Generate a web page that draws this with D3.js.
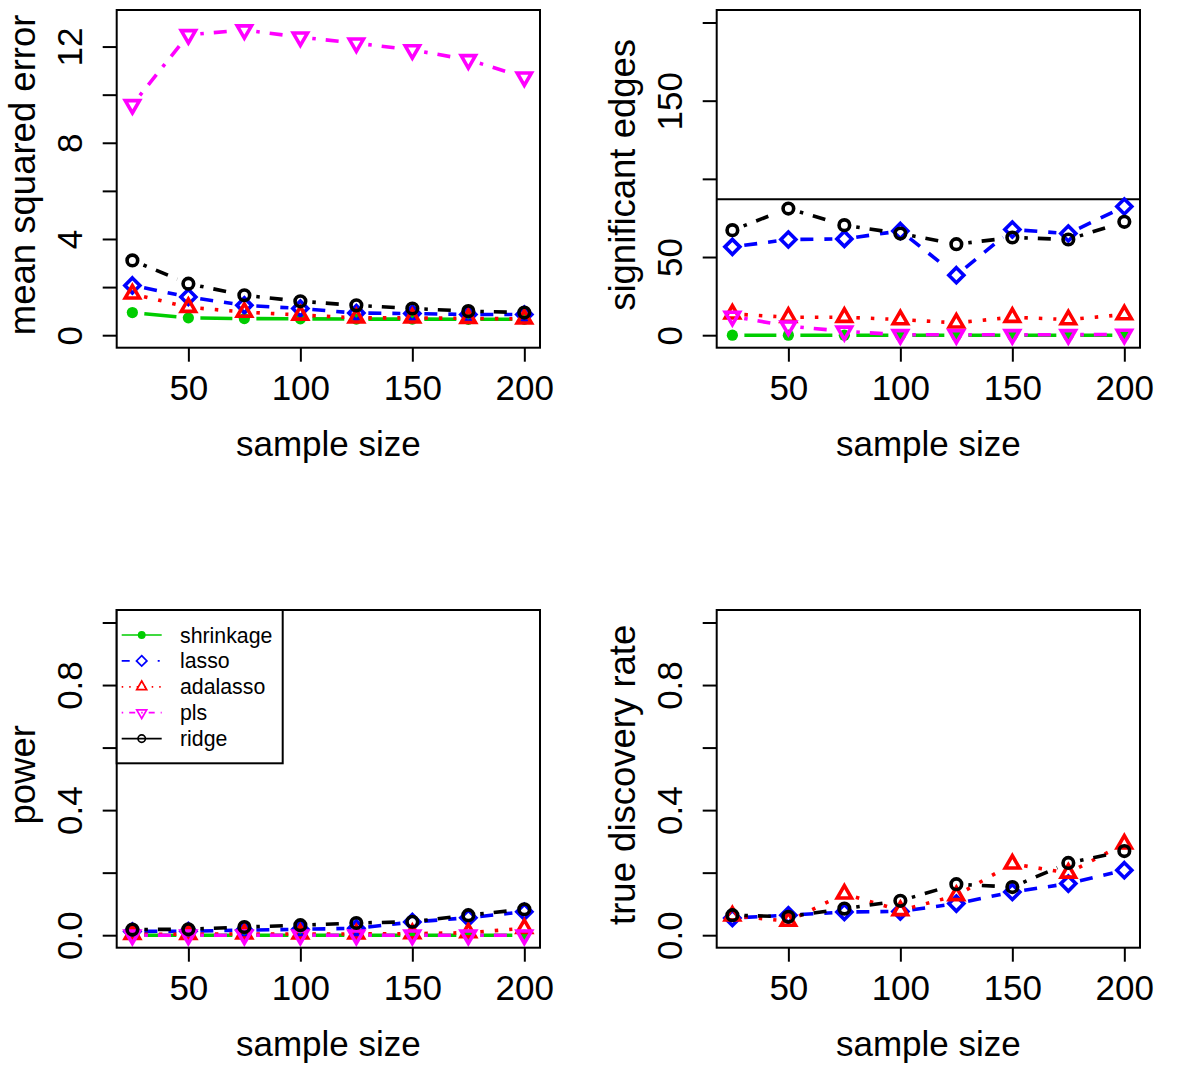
<!DOCTYPE html>
<html><head><meta charset="utf-8">
<script src="https://cdn.jsdelivr.net/npm/d3@7"></script>
<style>
body{margin:0;background:#fff}
svg{display:block}
text{font-family:"Liberation Sans",Arial,Helvetica,sans-serif;fill:#000}
</style>
</head><body>
<svg id="c" width="1200" height="1072"></svg>
<script>
// ---------------- data ----------------
const sampleSizes = [25, 50, 75, 100, 125, 150, 175, 200];
const methods = ["shrinkage", "lasso", "adalasso", "pls", "ridge"];

const mseShrinkage = [0.94, 0.72, 0.69, 0.68, 0.67, 0.67, 0.66, 0.66];
const mseLasso     = [2.07, 1.59, 1.24, 1.11, 0.92, 0.90, 0.86, 0.86];
const mseAdalasso  = [1.72, 1.16, 0.96, 0.84, 0.72, 0.72, 0.70, 0.68];
const msePls       = [9.58, 12.49, 12.69, 12.39, 12.14, 11.86, 11.45, 10.73];
const mseRidge     = [3.11, 2.14, 1.66, 1.41, 1.24, 1.11, 1.00, 0.94];

const edgesShrinkage = [0, 0, 0, 0, 0, 0, 0, 0];
const edgesLasso     = [56.5, 61.2, 61.6, 66.7, 38.4, 67.6, 65.0, 82.3];
const edgesAdalasso  = [13.6, 11.5, 11.5, 10.0, 7.9, 11.5, 10.0, 13.2];
const edgesPls       = [12.0, 5.8, 2.5, 0.3, 0.3, 0.3, 0.3, 0.5];
const edgesRidge     = [67.2, 81.0, 70.4, 65.0, 58.2, 62.5, 61.2, 72.5];
const trueEdges = 87;

const powerShrinkage = [0, 0, 0, 0, 0, 0, 0, 0];
const powerLasso     = [0.012, 0.013, 0.016, 0.019, 0.022, 0.042, 0.056, 0.075];
const powerAdalasso  = [0.003, 0.003, 0.004, 0.004, 0.004, 0.005, 0.008, 0.022];
const powerPls       = [0, 0, 0, 0, 0, 0, 0, 0];
const powerRidge     = [0.018, 0.019, 0.026, 0.032, 0.039, 0.043, 0.064, 0.083];

const tdrShrinkage = [null, null, null, null, null, null, null, null];
const tdrLasso     = [0.055, 0.064, 0.074, 0.076, 0.101, 0.138, 0.165, 0.208];
const tdrAdalasso  = [0.062, 0.045, 0.132, 0.079, 0.127, 0.228, 0.199, 0.292];
const tdrPls       = [null, null, null, null, null, null, null, null];
const tdrRidge     = [0.064, 0.059, 0.085, 0.110, 0.163, 0.154, 0.231, 0.269];

const xTicks = [50, 100, 150, 200];
const mseTicks = [0, 2, 4, 6, 8, 10, 12];
const mseTickLabels = ["0", "4", "8", "12"];
const edgesTicks = [0, 50, 100, 150, 200];
const edgesTickLabels = ["0", "50", "150"];
const propTicks = [0, 0.2, 0.4, 0.6, 0.8, 1.0];
const propTickLabels = ["0.0", "0.4", "0.8"];

// ---------------- styles ----------------
const colors = ["#00CD00", "#0000FF", "#FF0000", "#FF00FF", "#000000"];
const dashes = [null, "13,11", "3.5,11", "3.5,10,13,10", "3.5,10,13,10"];
const legendDashes = [null, "8,28,2,10", "1.5,6", "1.5,6,6,6", null];

const svg = d3.select("#c");
const W = 423.3, H = 337.7;

function markerPath(i, R) {
  if (i === 1) { const d = Math.SQRT2 * R; return `M0,${-d}L${d},0L0,${d}L${-d},0Z`; }
  if (i === 2) { return `M0,${-1.5551*R}L${1.3468*R},${0.7776*R}L${-1.3468*R},${0.7776*R}Z`; }
  if (i === 3) { return `M0,${1.5551*R}L${1.3468*R},${-0.7776*R}L${-1.3468*R},${-0.7776*R}Z`; }
  return null;
}

function drawMarker(sel, i, R, sw) {
  if (i === 0) {
    sel.append("circle").attr("r", R * 1.06).attr("fill", colors[i]);
  } else if (i === 4) {
    sel.append("circle").attr("r", R).attr("fill", "none").attr("stroke", colors[i]).attr("stroke-width", sw);
  } else {
    sel.append("path").attr("d", markerPath(i, R)).attr("fill", "none")
      .attr("stroke", colors[i]).attr("stroke-width", sw).attr("stroke-linejoin", "miter");
  }
}

const panels = [
  { left: 116.7, top: 10, yDomain: [-0.52, 13.52], yTicks: mseTicks, yLabels: mseTickLabels,
    title: "mean squared error", series: [mseShrinkage, mseLasso, mseAdalasso, msePls, mseRidge] },
  { left: 716.7, top: 10, yDomain: [-8, 208], yTicks: edgesTicks, yLabels: edgesTickLabels,
    title: "significant edges", series: [edgesShrinkage, edgesLasso, edgesAdalasso, edgesPls, edgesRidge], hline: trueEdges },
  { left: 116.7, top: 610, yDomain: [-0.04, 1.04], yTicks: propTicks, yLabels: propTickLabels,
    title: "power", series: [powerShrinkage, powerLasso, powerAdalasso, powerPls, powerRidge], legend: true },
  { left: 716.7, top: 610, yDomain: [-0.04, 1.04], yTicks: propTicks, yLabels: propTickLabels,
    title: "true discovery rate", series: [tdrShrinkage, tdrLasso, tdrAdalasso, tdrPls, tdrRidge] }
];

const fmtInt = d => String(d);

panels.forEach((p, pi) => {
  const g = svg.append("g").attr("transform", `translate(${p.left},${p.top})`);
  const x = d3.scaleLinear().domain([18, 207]).range([0, W]);
  const y = d3.scaleLinear().domain(p.yDomain).range([H, 0]);
  const fmt = pi >= 2 ? d3.format(".1f") : fmtInt;

  // y axis
  const ya = g.append("g")
    .call(d3.axisLeft(y).tickValues(p.yTicks).tickSize(14)
      .tickFormat(d => p.yLabels.includes(fmt(d)) ? fmt(d) : ""));
  ya.attr("font-size", 35).attr("font-family", null);
  ya.select(".domain").remove();
  ya.selectAll(".tick line").attr("stroke-width", 2).attr("stroke", "#000");
  ya.selectAll(".tick text")
    .attr("x", 0).attr("y", 0).attr("dy", null)
    .attr("text-anchor", "middle")
    .attr("transform", "translate(-35,0) rotate(-90)")
    .attr("fill", "#000");

  // x axis
  const xa = g.append("g").attr("transform", `translate(0,${H})`)
    .call(d3.axisBottom(x).tickValues(xTicks).tickSize(14));
  xa.attr("font-size", 35).attr("font-family", null);
  xa.select(".domain").remove();
  xa.selectAll(".tick line").attr("stroke-width", 2).attr("stroke", "#000");
  xa.selectAll(".tick text").attr("y", 52.5).attr("dy", null).attr("fill", "#000");

  // titles
  g.append("text").attr("x", W / 2).attr("y", H + 108.5)
    .attr("text-anchor", "middle").attr("font-size", 35).text("sample size");
  g.append("text").attr("transform", `translate(-81.7,${H / 2 - 4}) rotate(-90)`)
    .attr("text-anchor", "middle").attr("font-size", 36.5).text(p.title);

  // reference line
  if (p.hline != null) {
    g.append("line").attr("x1", 0).attr("x2", W).attr("y1", y(p.hline)).attr("y2", y(p.hline))
      .attr("stroke", "#000").attr("stroke-width", 2);
  }

  // series
  const gap = 12;
  p.series.forEach((vals, i) => {
    const pts = sampleSizes.map((s, k) => ({ s, v: vals[k] })).filter(d => d.v != null)
      .map(d => ({ px: x(d.s), py: y(d.v) }));
    const segs = [];
    for (let k = 0; k < pts.length - 1; k++) {
      const a = pts[k], b = pts[k + 1];
      const dx = b.px - a.px, dy = b.py - a.py, f = Math.hypot(dx, dy);
      if (f > 2 * gap) {
        segs.push({ x1: a.px + gap * dx / f, y1: a.py + gap * dy / f,
                    x2: b.px - gap * dx / f, y2: b.py - gap * dy / f });
      }
    }
    const sg = g.append("g");
    sg.selectAll("line").data(segs).join("line")
      .attr("x1", d => d.x1).attr("y1", d => d.y1).attr("x2", d => d.x2).attr("y2", d => d.y2)
      .attr("stroke", colors[i]).attr("stroke-width", 3.6)
      .attr("stroke-dasharray", dashes[i]).attr("stroke-linecap", "butt");
    pts.forEach(pt => {
      const mg = sg.append("g").attr("transform", `translate(${pt.px},${pt.py})`);
      drawMarker(mg, i, 5.3, 3.6);
    });
  });

  // box
  g.append("rect").attr("width", W).attr("height", H).attr("fill", "none")
    .attr("stroke", "#000").attr("stroke-width", 2);

  // legend
  if (p.legend) {
    const lg = g.append("g");
    lg.append("rect").attr("x", 0).attr("y", 0).attr("width", 166).attr("height", 153.3)
      .attr("fill", "#fff").attr("stroke", "#000").attr("stroke-width", 2);
    methods.forEach((m, i) => {
      const ry = 25 + i * 25.9;
      lg.append("line").attr("x1", 5).attr("x2", 45).attr("y1", ry).attr("y2", ry)
        .attr("stroke", colors[i]).attr("stroke-width", 1.7)
        .attr("stroke-dasharray", legendDashes[i]);
      const mg = lg.append("g").attr("transform", `translate(25,${ry})`);
      drawMarker(mg, i, 3.7, 1.7);
      lg.append("text").attr("x", 63.3).attr("y", ry + 7.5).attr("font-size", 21.3).text(m);
    });
  }
});
</script>
</body></html>
